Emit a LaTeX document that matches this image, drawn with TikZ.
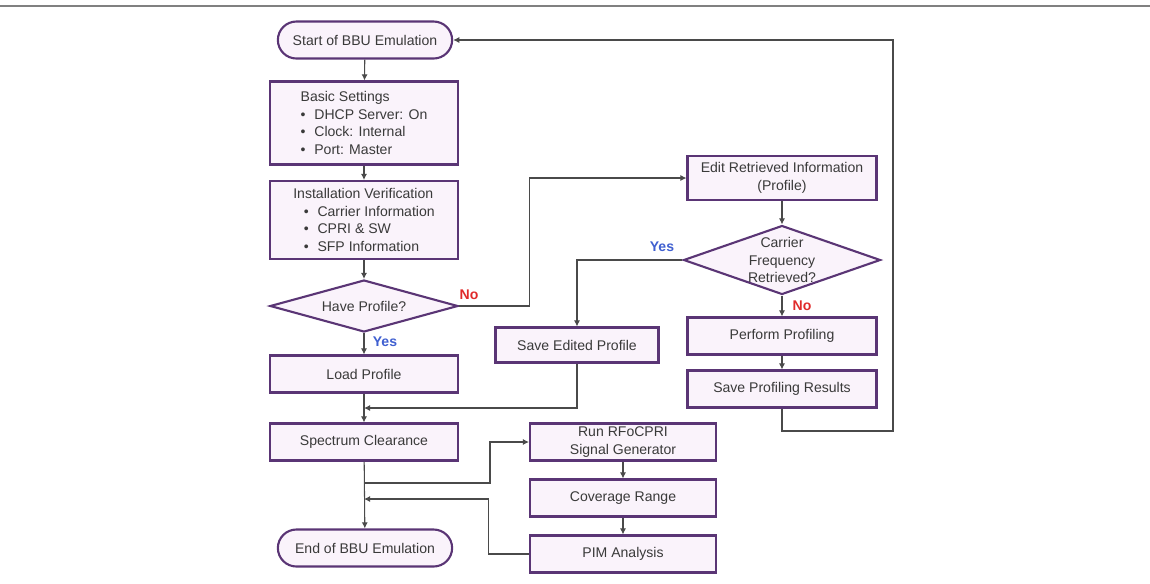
\documentclass[tikz,border=0pt]{standalone}
\usepackage{fontspec}
\setmainfont{Liberation Sans}
\usetikzlibrary{shapes.geometric,shapes.misc,arrows.meta}
\definecolor{boxline}{HTML}{5A3575}
\definecolor{boxfill}{HTML}{FAF3FB}
\definecolor{txt}{HTML}{3A3A3A}
\definecolor{linecol}{HTML}{4A4A4A}
\definecolor{yescol}{HTML}{3F5FD0}
\definecolor{nocol}{HTML}{E02A2A}

\begin{document}
\begin{tikzpicture}[x=0.02cm,y=-0.02cm,font=\fontsize{8}{10}\selectfont,text=txt,
    term/.style={rounded rectangle,draw=boxline,line width=1.2pt,fill=boxfill,minimum width=3.72cm,minimum height=0.74cm},
    proc/.style={rectangle,draw=boxline,line width=1.2pt,fill=boxfill,minimum width=3.76cm,minimum height=0.74cm,inner sep=1pt,align=center},
    decision/.style={diamond,draw=boxline,line width=1.2pt,fill=boxfill,inner sep=0pt},
    arr/.style={draw=linecol,line width=0.6pt,-{Latex[length=3.5pt,width=3.5pt]}},
    yes/.style={text=yescol,font=\fontsize{8}{10}\selectfont\bfseries},
    no/.style={text=nocol,font=\fontsize{8}{10}\selectfont\bfseries}]
    \useasboundingbox (0,0) rectangle (1150,583);
    \draw[gray,line width=1.2pt] (0,6) -- (1150,6);

    % left column
    \node[term] (start) at (365,40) {Start of BBU Emulation};
    \node[proc,minimum height=1.66cm,align=left] (basic) at (364,123) {Basic Settings\\
        \textbullet\hspace{5pt}DHCP Server: On\\
        \textbullet\hspace{5pt}Clock: Internal\\
        \textbullet\hspace{5pt}Port: Master};
    \node[proc,minimum height=1.56cm,align=left] (inst) at (364,220) {Installation Verification\\
        \hspace{6pt}\textbullet\hspace{5pt}Carrier Information\\
        \hspace{6pt}\textbullet\hspace{5pt}CPRI \& SW\\
        \hspace{6pt}\textbullet\hspace{5pt}SFP Information};
    \node[decision,minimum width=3.76cm,minimum height=1.04cm,label={center:Have Profile?}] (have) at (364,306) {};
    \node[proc] (load) at (364,374) {Load Profile};
    \node[proc] (spec) at (364,442) {Spectrum Clearance};
    \node[term] (end) at (365,548) {End of BBU Emulation};

    % right column
    \node[proc,minimum width=3.78cm,minimum height=0.88cm] (edit) at (782,178) {Edit Retrieved Information\\(Profile)};
    \node[decision,minimum width=3.94cm,minimum height=1.38cm,label={[align=center]center:Carrier\\Frequency\\Retrieved?}] (carrier) at (782,260) {};
    \node[proc,minimum width=3.78cm] (perf) at (782,336) {Perform Profiling};
    \node[proc,minimum width=3.78cm] (saveprof) at (782,389) {Save Profiling Results};
    \node[proc,minimum width=3.26cm,minimum height=0.7cm] (saveed) at (577,345) {Save Edited Profile};

    % bottom middle
    \node[proc,minimum width=3.72cm] (run) at (623,442) {Run RFoCPRI\\Signal Generator};
    \node[proc,minimum width=3.72cm] (cov) at (623,498) {Coverage Range};
    \node[proc,minimum width=3.72cm] (pim) at (623,554) {PIM Analysis};

    \coordinate (back) at (893,431);
    \coordinate (join1) at (364,408);
    \coordinate (split) at (364,483);
    \coordinate (join2) at (364,499);

    \draw[arr] (start) -- (basic);
    \draw[arr] (basic) -- (inst);
    \draw[arr] (inst) -- (have);
    \draw[arr] (have) -- (load);
    \draw[arr] (load) -- (spec);
    \draw[arr] (spec) -- (end);
    \draw[arr] (have.east) -- ++(70,0) |- (edit.west);
    \draw[arr] (edit) -- (carrier);
    \draw[arr] (carrier.west) -| (saveed.north);
    \draw[arr] (carrier) -- (perf);
    \draw[arr] (perf) -- (saveprof);
    \draw[arr] (saveprof.south) |- (back) |- (start.east);
    \draw[arr] (saveed.south) |- (join1);
    \draw[arr] (split) -- ++(126,0) |- (run.west);
    \draw[arr] (run) -- (cov);
    \draw[arr] (cov) -- (pim);
    \draw[arr] (pim.west) -- ++(-40,0) |- (join2);

    \node[yes] (yes1) at (385,342) {Yes};
    \node[no] (no1) at (469,295) {No};
    \node[yes] (yes2) at (662,247) {Yes};
    \node[no] (no2) at (802,306) {No};
\end{tikzpicture}
\end{document}
